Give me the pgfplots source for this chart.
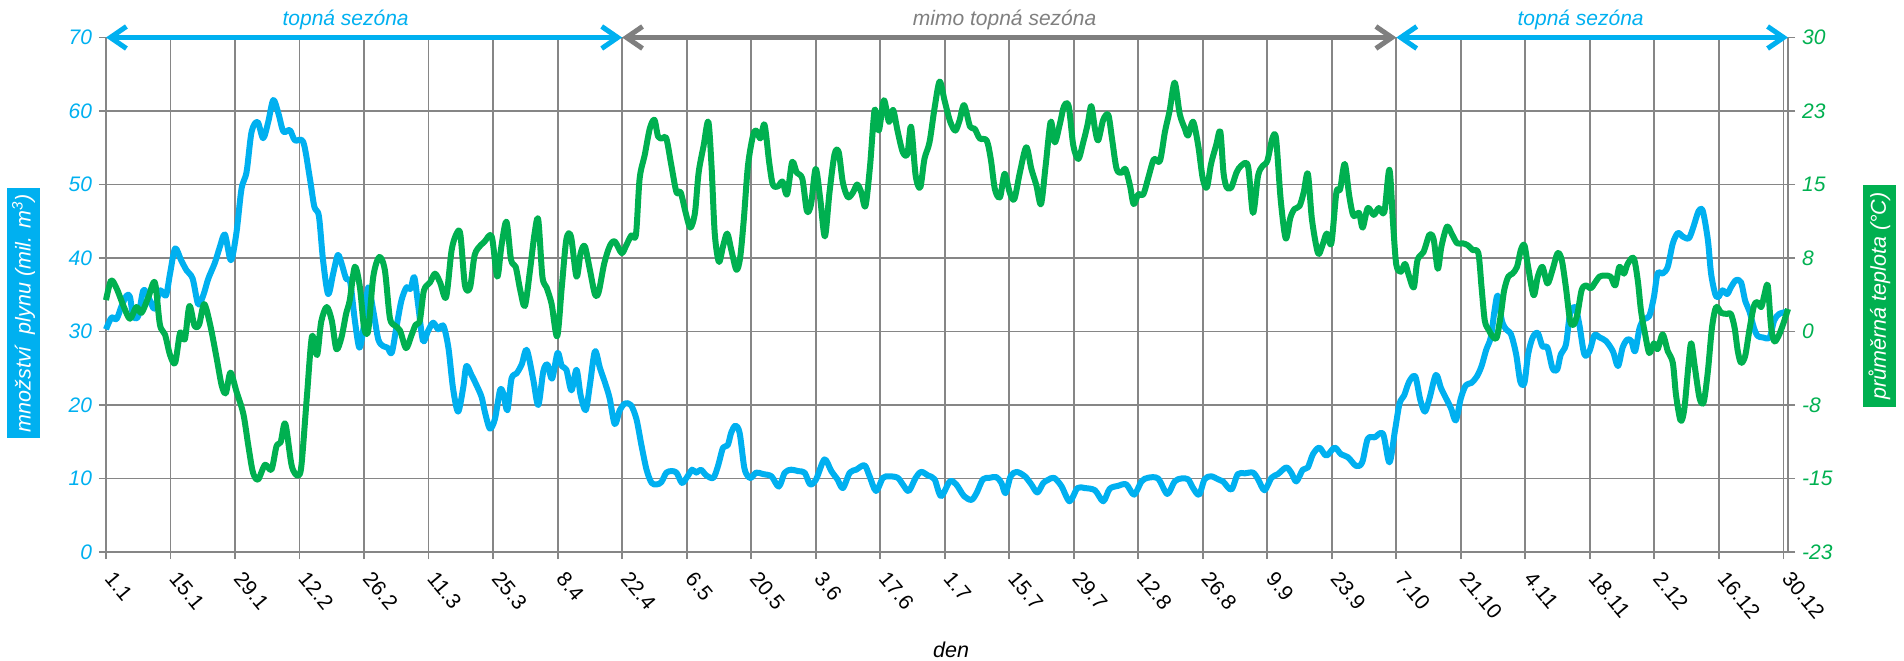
\documentclass[border=0pt]{standalone}
\usepackage{fontspec}
\setmainfont{Liberation Sans}
\usepackage{pgfplots}
\pgfplotsset{compat=1.18}
\usetikzlibrary{arrows.meta}
\definecolor{cblue}{RGB}{0,176,240}
\definecolor{cgreen}{RGB}{0,176,80}
\definecolor{cgrid}{RGB}{134,134,134}
\definecolor{carrow}{RGB}{127,127,127}

\tikzset{
  lbl/.style={font=\itshape\fontsize{10.75}{12.9}\selectfont, text=white,
    anchor=center, inner xsep=0pt, inner ysep=0pt, minimum height=16.5pt},
  season/.style={line width=2.5pt,
    {Straight Barb[length=8pt,width=11pt]}-{Straight Barb[length=8pt,width=11pt]}},
}
\pgfplotsset{
  base/.style={
    width=841pt, height=257.25pt, scale only axis,
    at={(0,0)}, anchor=south west,
    xmin=1, xmax=366, clip=false,
    tick align=outside, major tick length=3.5pt,
    every tick/.style={cgrid, line width=0.9pt},
    axis line style={cgrid, line width=0.9pt},
    font=\fontsize{10.5}{12.6}\selectfont,
  },
}

\begin{document}
\begin{tikzpicture}
\useasboundingbox (-53pt,-54pt) rectangle (899pt,276pt);

\begin{axis}[base,
  ymin=0, ymax=70,
  ytick={0,10,20,30,40,50,60,70},
  yticklabels={0,10,20,30,40,50,60,70},
  xtick={1,15,...,365},
  xticklabels={1.1,15.1,29.1,12.2,26.2,11.3,25.3,8.4,22.4,6.5,20.5,3.6,17.6,1.7,15.7,29.7,12.8,26.8,9.9,23.9,7.10,21.10,4.11,18.11,2.12,16.12,30.12},
  xtick pos=bottom, ytick pos=left,
  grid=major, major grid style={cgrid, line width=0.9pt},
  xticklabel style={xshift=4.5pt, yshift=-5.5pt, rotate=-50, anchor=north west,
    inner sep=0pt, text=black, font=\fontsize{10.5}{12.6}\selectfont},
  yticklabel style={font=\itshape\fontsize{10.5}{12.6}\selectfont, text=cblue},
  xlabel={den},
  xlabel style={at={(axis description cs:0.5024,-0.1905)}, anchor=center,
    font=\itshape\fontsize{10.75}{12.9}\selectfont},
  ylabel={množství\ \ plynu (mil. m\textsuperscript{3})},
  ylabel style={lbl, at={(axis description cs:-0.049,0.4645)}, fill=cblue,
    minimum width=125pt},
]
% mnozstvi plynu
\addplot[cblue, line width=3pt, smooth, line join=round] coordinates {
(1,30.3) (2.2,31.9) (3.3,31.7) (4.4,33.5) (5.5,34.9) (6.2,34.7) (6.9,32.1) (8.0,32.1) (9.1,35.6) (10.2,34.7)
(11.5,33.1) (12.7,35.6) (14.0,34.9) (14.9,37.9) (16.0,41.3) (17.3,39.7) (18.5,38.3) (19.8,37.2) (21.0,33.7) (22.1,34.9)
(23.2,37.2) (24.6,39.3) (25.7,41.5) (26.8,43.2) (28.1,39.7) (29.3,43.4) (30.4,49.4) (31.5,51.7) (32.6,57.2) (33.9,58.5)
(35.1,56.3) (36.2,58.5) (37.3,61.5) (38.4,59.7) (39.5,57.2) (40.9,57.4) (42.0,56.0) (43.8,55.8) (45.2,51.0) (46.2,47.0)
(47.2,45.7) (48.1,39.7) (49.2,35.1) (50.3,37.9) (51.3,40.4) (52.1,39.3) (53.1,37.2) (54.0,36.7) (55.0,31.5) (56.0,27.8)
(57.0,31.0) (57.9,36.0) (59.0,32.8) (60.1,28.9) (61.2,28.0) (62.1,27.8) (63.0,27.1) (64.0,30.5) (65.1,34.2) (66.2,36.0)
(67.1,35.8) (67.9,37.4) (68.8,33.3) (69.8,28.7) (70.9,30.1) (72.0,31.2) (73.1,30.3) (74.2,30.8) (75.3,27.8) (76.3,22.3)
(77.4,19.1) (78.5,22.3) (79.2,25.3) (80.3,24.1) (81.4,22.7) (82.5,21.1) (83.2,19.1) (84.3,16.8) (85.4,18.1) (86.5,22.0)
(87.2,21.6) (88.1,19.3) (89.0,23.6) (90.1,24.3) (91.2,25.5) (92.3,27.5) (93.7,23.5) (94.8,20.0) (95.9,24.6) (96.8,25.5)
(97.8,23.6) (99.0,27.1) (99.9,25.3) (100.9,24.8) (102.0,22.0) (103.1,24.8) (104.0,21.3) (105.1,19.3) (106.0,22.7) (107.1,27.3)
(108.2,25.0) (109.3,23.0) (110.3,20.9) (111.4,17.4) (112.5,19.3) (113.6,20.2) (114.9,20.0) (116.1,18.1) (117.2,14.5) (118.3,11.2)
(119.4,9.4) (120.5,9.2) (121.5,9.5) (122.6,10.8) (123.7,11.0) (124.8,10.8) (126.0,9.4) (127.2,10.3) (128.2,11.2) (129.1,10.8)
(130.1,11.2) (131.3,10.4) (132.8,10.1) (133.8,11.7) (134.9,14.2) (135.9,14.5) (136.7,16.3) (137.6,17.2) (138.5,16.2) (139.5,11.5)
(140.3,10.3) (141.0,10.1) (142.1,10.8) (143.6,10.6) (145.4,10.3) (147.0,8.9) (148.3,10.8) (149.7,11.2) (151.2,11.0) (152.6,10.8)
(153.8,9.2) (155.1,9.9) (156.9,12.6) (158.4,11.0) (159.7,9.9) (160.9,8.7) (162.4,10.8) (163.8,11.2) (165.6,11.8) (166.7,10.3)
(168.1,8.3) (169.6,10.1) (171.0,10.3) (172.8,10.1) (173.9,9.2) (175.2,8.3) (176.7,10.1) (177.9,10.9) (179.4,10.4) (180.8,9.9)
(182.2,7.6) (184.1,9.6) (185.5,9.2) (187.2,7.6) (188.8,7.1) (189.9,8.0) (191.3,9.9) (192.8,10.1) (194.2,10.2) (195.3,9.4)
(196.2,8.0) (197.3,10.3) (198.6,10.9) (200.4,10.3) (201.8,9.2) (203.1,8.1) (204.4,9.4) (205.4,9.8) (206.7,10.1) (208.3,9.0)
(210.1,6.9) (211.8,8.7) (213.4,8.7) (215.6,8.4) (217.4,6.9) (218.8,8.6) (220.6,9.0) (222.4,9.2) (224.1,7.8) (225.7,9.6)
(227.1,10.1) (229.3,10.0) (231.3,7.9) (232.9,9.6) (234.3,10.0) (235.8,9.9) (236.9,8.7) (238.2,7.8) (239.4,9.9) (240.8,10.3)
(242.3,9.9) (243.4,9.6) (245.2,8.5) (246.6,10.6) (248.1,10.7) (249.9,10.8) (251.0,9.9) (252.4,8.4) (253.9,10.1) (255.3,10.6)
(257.1,11.5) (258.2,10.8) (259.3,9.6) (260.7,11.2) (261.8,11.5) (262.9,13.3) (264.3,14.2) (265.8,13.1) (267.6,14.2) (269.0,13.3)
(270.5,12.9) (272.3,11.7) (273.6,12.2) (274.8,15.4) (276.3,15.6) (278.1,16.1) (279.5,12.2) (280.7,16.5) (281.7,20.2) (282.7,21.3)
(283.8,23.2) (285.1,23.9) (286.2,20.7) (287.2,19.1) (288.2,20.9) (289.6,24.1) (290.7,22.3) (291.8,20.9) (292.9,19.5) (293.9,17.9)
(295.0,20.9) (296.1,22.7) (297.3,23.0) (298.5,23.9) (299.5,25.3) (300.5,27.5) (301.5,29.2) (302.3,32.8) (303.0,34.9) (303.9,31.5)
(304.8,30.3) (305.9,29.6) (307.0,26.9) (307.9,23.2) (308.8,23.0) (309.6,26.9) (310.6,29.2) (311.7,29.8) (312.7,28.0) (313.8,27.8)
(314.9,25.0) (315.9,24.8) (316.7,26.9) (317.8,28.2) (318.7,32.4) (319.8,33.3) (320.7,31.0) (321.8,26.9) (322.9,27.3) (324.0,29.5)
(325.1,29.2) (326.5,28.7) (328.0,27.3) (329.1,25.3) (330.1,27.8) (331.1,28.9) (332.0,28.7) (332.8,27.3) (333.8,30.5) (334.8,31.7)
(335.9,32.1) (336.9,34.7) (337.7,37.9) (338.8,37.9) (339.9,38.8) (341.0,42.0) (342.1,43.4) (343.2,42.9) (344.5,42.7) (345.5,44.3)
(346.6,46.4) (347.5,46.4) (348.6,42.5) (349.3,37.9) (350.2,35.1) (350.9,34.7) (351.8,35.6) (352.8,35.1) (353.6,36.0) (354.7,37.0)
(355.8,36.7) (356.7,34.2) (357.6,32.8) (358.6,30.5) (359.4,29.4) (360.5,29.2) (362.0,29.2) (363.0,31.5) (364.1,32.4) (366,32.7)
};
\end{axis}

\begin{axis}[base,
  axis x line=none, axis y line*=right, ytick pos=right,
  ymin=-22.5, ymax=30,
  ytick={-22.5,-15,-7.5,0,7.5,15,22.5,30},
  yticklabels={-23,-15,-8,0,8,15,23,30},
  yticklabel style={font=\itshape\fontsize{10.5}{12.6}\selectfont, text=cgreen},
  ylabel={průměrná teplota (°C)},
  ylabel style={lbl, at={(axis description cs:1.0544,0.4976)}, fill=cgreen,
    minimum width=111pt},
]
% prumerna teplota
\addplot[cgreen, line width=3pt, smooth, line join=round] coordinates {
(1,3.2) (2.1,5.2) (3.3,4.4) (4.8,2.6) (6.2,1.3) (7.6,2.5) (8.7,1.9) (10.2,3.5) (11.6,5.0) (12.7,0.7)
(13.8,-0.3) (14.9,-2.4) (16.0,-3.2) (17.1,-0.1) (18.1,-0.8) (19.1,2.6) (20.2,0.6) (21.2,0.7) (22.3,2.8) (23.6,0.7)
(25.0,-2.7) (26.1,-5.5) (27.0,-6.3) (28.0,-4.2) (29.3,-6.1) (30.8,-8.4) (31.9,-11.7) (32.9,-14.4) (34.0,-15.1) (35.5,-13.6)
(36.9,-14.1) (38.0,-11.7) (38.9,-11.3) (39.9,-9.4) (41.3,-13.7) (42.6,-14.7) (43.4,-13.7) (44.6,-6.6) (45.7,-0.5) (46.8,-2.4)
(47.7,1.0) (48.9,2.5) (50.0,1.1) (51.0,-1.8) (52.1,-0.6) (53.1,1.8) (53.9,3.2) (55.0,6.6) (56.1,4.5) (57.0,0.4)
(57.9,0.1) (59.0,5.6) (60.3,7.6) (61.5,6.3) (62.6,1.4) (63.7,0.6) (64.8,0.1) (66.1,-1.7) (67.2,-0.5) (68.2,0.7)
(69.1,1.1) (70.0,4.2) (71.3,5.0) (72.4,5.9) (73.5,5.0) (74.8,3.5) (76.0,8.3) (77.1,10.0) (77.9,9.9) (78.9,4.7)
(80.0,4.5) (81.0,7.8) (82.3,8.8) (83.2,9.2) (84.7,9.7) (85.9,5.6) (86.8,8.7) (87.9,11.2) (88.9,7.3) (89.9,6.6)
(90.9,4.2) (91.9,2.6) (93.0,6.2) (94.0,10.0) (94.8,11.4) (95.7,5.6) (96.6,4.5) (97.7,2.8) (98.9,-0.5) (99.9,4.5)
(100.9,9.4) (101.9,9.7) (103.1,5.6) (104.0,8.0) (104.9,8.7) (106.0,6.3) (107.1,3.8) (107.9,4.0) (109.1,6.9) (110.3,8.7)
(111.4,9.2) (112.9,8.0) (113.9,8.8) (115.0,9.8) (116.0,9.9) (116.8,15.6) (117.9,18.0) (119.0,20.7) (120.0,21.6) (120.8,19.9)
(121.7,19.7) (122.6,19.7) (123.7,16.9) (124.8,14.2) (125.7,14.2) (126.8,12.1) (127.8,10.6) (128.8,12.1) (129.6,16.2) (130.7,19.0)
(131.7,21.4) (132.4,16.9) (133.1,10.0) (134.0,7.1) (134.9,8.7) (135.8,10.0) (136.7,8.3) (137.8,6.3) (138.6,7.5) (139.4,11.4)
(140.3,16.9) (141.4,20.0) (142.1,20.5) (143.0,19.7) (143.9,21.1) (144.9,17.3) (145.7,15.0) (146.8,14.8) (147.8,15.3) (148.8,14.0)
(149.9,17.3) (150.9,16.2) (152.1,15.6) (153.1,12.3) (154.0,13.0) (155.0,16.6) (156.0,13.5) (157.0,9.7) (158.0,14.2) (159.1,18.1)
(160.0,18.3) (160.9,15.2) (162.0,13.7) (163.1,14.2) (164.0,15.0) (164.9,14.2) (165.8,12.8) (166.8,16.9) (167.8,22.6) (168.7,20.5)
(169.8,23.6) (170.9,21.4) (171.8,22.6) (172.8,20.4) (173.9,18.3) (174.9,18.1) (175.7,20.9) (176.7,15.9) (177.7,14.7) (178.6,17.6)
(179.7,19.3) (180.8,22.8) (181.9,25.5) (183.0,23.5) (184.2,21.4) (185.3,20.5) (186.2,21.5) (187.2,23.1) (188.5,20.9) (189.5,20.7)
(190.6,19.7) (192.1,19.5) (193.0,17.6) (193.9,14.5) (195.0,13.7) (196.0,16.1) (197.1,14.2) (198.1,13.5) (199.3,16.2) (200.7,18.8)
(201.8,16.6) (202.9,14.9) (203.9,13.0) (204.9,16.9) (206.0,21.4) (206.9,19.3) (208.0,21.2) (208.9,23.0) (209.9,23.0) (210.9,19.0)
(212.0,17.6) (213.0,19.2) (214.0,21.1) (214.8,23.0) (215.6,20.7) (216.3,19.5) (217.4,21.6) (218.5,22.1) (219.3,19.7) (220.3,16.6)
(221.4,16.2) (222.2,16.6) (223.2,14.9) (224.0,13.0) (225.0,14.0) (226.1,14.0) (227.3,15.9) (228.4,17.6) (229.7,17.4) (230.8,20.4)
(231.8,22.5) (232.9,25.4) (234.0,22.2) (235.1,20.7) (235.8,20.0) (236.9,21.4) (238.0,19.0) (239.0,15.6) (239.9,14.7) (240.8,17.1)
(241.9,19.0) (242.8,20.4) (243.5,16.2) (244.2,14.7) (245.2,14.7) (246.3,16.2) (247.3,16.9) (248.8,16.9) (249.9,12.1) (251.0,15.9)
(252.0,16.9) (253.0,17.4) (254.1,19.7) (254.9,19.7) (255.9,13.5) (257.0,9.5) (258.0,11.6) (258.9,12.5) (260.0,12.8) (260.9,14.2)
(261.8,16.1) (262.7,11.4) (264.0,8.0) (264.9,8.7) (265.9,10.0) (266.9,9.0) (268.0,14.2) (268.8,14.5) (269.8,17.1) (270.8,13.8)
(271.7,11.8) (272.9,12.1) (273.7,10.6) (274.8,12.6) (276.1,11.9) (277.2,12.6) (278.4,12.2) (279.5,16.5) (280.3,11.0) (281.0,6.8)
(282.0,6.1) (282.9,6.9) (283.8,5.6) (284.8,4.5) (285.6,7.3) (286.9,8.1) (288.2,9.9) (289.1,9.4) (290.0,6.4) (290.8,8.7)
(292.0,10.7) (293.1,9.9) (294.2,9.0) (295.4,9.0) (296.5,8.8) (297.6,8.3) (298.8,8.0) (299.5,4.5) (300.2,1.1) (301.0,0.2)
(301.9,-0.5) (302.8,-0.6) (303.7,1.8) (304.4,4.2) (305.3,5.6) (306.2,5.9) (307.2,6.6) (308.0,8.3) (308.8,8.8) (309.6,6.6)
(310.8,3.7) (311.7,5.6) (312.7,6.6) (313.8,4.9) (314.9,6.3) (316.0,8.0) (316.9,7.3) (317.8,4.5) (318.7,1.1) (319.5,0.7)
(320.3,1.8) (321.2,4.2) (322.1,4.7) (323.2,4.4) (324.0,4.9) (325.1,5.6) (326.2,5.7) (327.5,5.6) (328.5,4.7) (329.4,6.6)
(330.4,5.9) (331.2,6.9) (332.5,7.5) (333.4,5.2) (334.1,2.1) (335.0,-0.3) (335.9,-2.2) (336.9,-1.2) (337.7,-1.8) (338.8,-0.3)
(339.9,-2.0) (341.0,-3.2) (341.7,-6.5) (342.7,-9.1) (343.5,-7.9) (344.4,-3.4) (345.0,-1.2) (345.8,-3.7) (346.8,-6.8) (347.7,-7.2)
(348.6,-4.1) (349.5,0.4) (350.4,2.5) (351.5,1.9) (352.8,1.8) (353.6,1.8) (354.4,0.4) (355.1,-2.0) (355.8,-3.2) (356.7,-2.5)
(357.6,0.1) (358.6,2.6) (359.4,3.0) (360.2,2.5) (360.9,3.8) (361.6,4.7) (362.3,0.6) (363.0,-1.0) (363.9,-0.5) (364.9,0.7)
(366,2.3)
};
% topna sezona / mimo topna sezona
\draw[cblue, season] (axis cs:1,30) -- (axis cs:113,30);
\draw[cblue, season] (axis cs:281,30) -- (axis cs:366,30);
\draw[carrow, season] (axis cs:113,30) -- (axis cs:281,30);
\node[text=cblue, font=\itshape\fontsize{10.5}{12.6}\selectfont] at ([yshift=9pt]axis cs:53,30) {topná sezóna};
\node[text=carrow, font=\itshape\fontsize{10.5}{12.6}\selectfont] at ([yshift=9pt]axis cs:196,30) {mimo topná sezóna};
\node[text=cblue, font=\itshape\fontsize{10.5}{12.6}\selectfont] at ([yshift=9pt]axis cs:321,30) {topná sezóna};
\end{axis}
\end{tikzpicture}
\end{document}
